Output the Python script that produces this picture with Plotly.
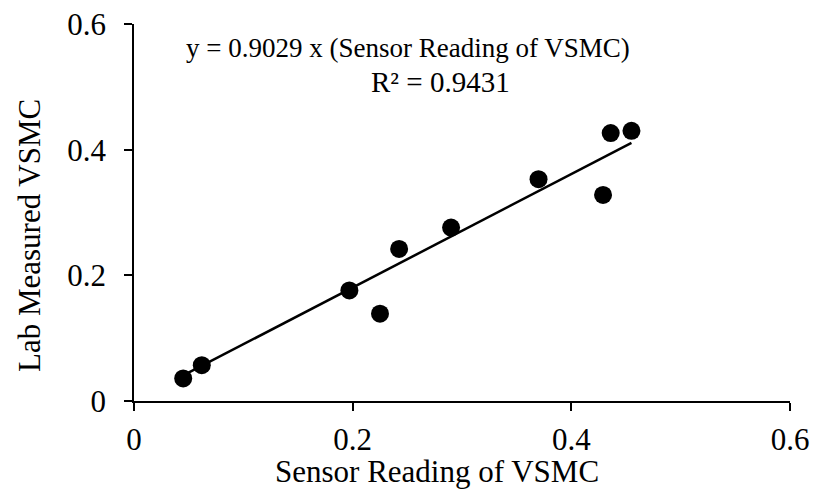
import plotly.graph_objects as go

# Sensor reading vs lab-measured volumetric soil moisture content
sensor_vsmc = [0.045, 0.062, 0.197, 0.225, 0.2425, 0.290, 0.370, 0.429, 0.436, 0.455]
lab_vsmc = [0.036, 0.057, 0.176, 0.139, 0.242, 0.276, 0.353, 0.328, 0.4265, 0.430]

slope = 0.9029
r_squared = 0.9431
tick_vals = [0, 0.2, 0.4, 0.6]
tick_text = ["0", "0.2", "0.4", "0.6"]

FONT = "Liberation Serif, Times New Roman, serif"

# Linear trendline through the origin spanning the data
x_fit = [min(sensor_vsmc), max(sensor_vsmc)]
y_fit = [slope * v for v in x_fit]

fig = go.Figure()
fig.add_trace(go.Scatter(
    x=x_fit, y=y_fit, mode="lines",
    line=dict(color="black", width=2.5),
    hoverinfo="skip", showlegend=False,
))
fig.add_trace(go.Scatter(
    x=sensor_vsmc, y=lab_vsmc, mode="markers",
    marker=dict(color="black", size=18),
    showlegend=False,
))

axis_common = dict(
    range=[0, 0.6], tickvals=tick_vals, ticktext=tick_text,
    showgrid=False, zeroline=False, automargin=False,
    showline=True, linecolor="black", linewidth=1.5,
    ticks="outside", ticklen=8, tickwidth=1.5, tickcolor="black",
    tickfont=dict(family=FONT, size=31, color="black"),
)

fig.update_layout(
    width=813, height=503,
    margin=dict(l=134, r=23, t=24, b=102),
    paper_bgcolor="white", plot_bgcolor="white",
    xaxis=dict(**axis_common, ticklabelstandoff=2),
    yaxis=dict(**axis_common, ticklabelstandoff=12),
    font=dict(family=FONT, color="black"),
)

fig.add_annotation(
    text="Sensor Reading of VSMC", xref="paper", yref="paper",
    x=0.462, y=-0.188, xanchor="center", yanchor="middle",
    showarrow=False, font=dict(family=FONT, size=31, color="black"),
)
fig.add_annotation(
    text="Lab Measured VSMC", xref="paper", yref="paper",
    x=-0.1585, y=0.4377, xanchor="center", yanchor="middle", textangle=-90,
    showarrow=False, font=dict(family=FONT, size=31, color="black"),
)
fig.add_annotation(
    text=f"y = {slope:.4f} x (Sensor Reading of VSMC)", xref="paper", yref="paper",
    x=0.0767, y=0.937, xanchor="left", yanchor="middle",
    showarrow=False, font=dict(family=FONT, size=27, color="black"),
)
fig.add_annotation(
    text=f"R² = {r_squared:.4f}", xref="paper", yref="paper",
    x=0.3575, y=0.845, xanchor="left", yanchor="middle",
    showarrow=False, font=dict(family=FONT, size=29, color="black"),
)

fig.write_html("out.html")
